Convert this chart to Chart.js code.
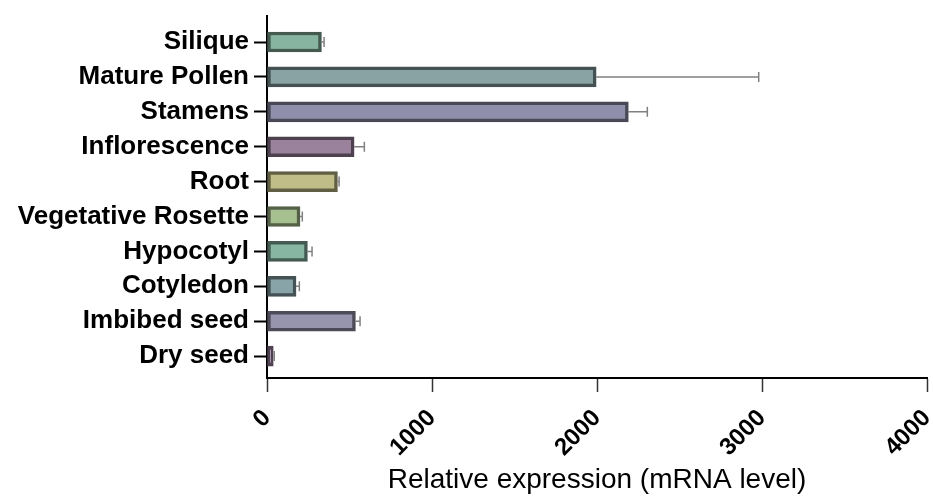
<!DOCTYPE html>
<html>
<head>
<meta charset="utf-8">
<script src="https://cdn.jsdelivr.net/npm/chart.js@4.4.1/dist/chart.umd.min.js"></script>
<style>
  html, body { margin: 0; padding: 0; background: #fff; }
  #wrap { width: 933px; height: 497px; }
</style>
</head>
<body>
<div id="wrap"><canvas id="exprChart" width="933" height="497"></canvas></div>
<script>
// tissues, top to bottom
const tissues = ['Silique', 'Mature Pollen', 'Stamens', 'Inflorescence', 'Root',
    'Vegetative Rosette', 'Hypocotyl', 'Cotyledon', 'Imbibed seed', 'Dry seed'];
const expression = [330, 1995, 2190, 528, 427, 200, 245, 176, 536, 38];
const errors = [16, 985, 115, 62, 10, 14, 28, 20, 28, 6];
const xTicks = [0, 1000, 2000, 3000, 4000];

const fillColors = ['#87b3a1', '#89a3a5', '#8f8fab', '#9a829d', '#c0bd88',
    '#a7c08f', '#87b6a3', '#89a4a9', '#9795ae', '#9b81a1'];

// darker outline from the fill colour
const darken = (hex, f) => {
    const n = parseInt(hex.slice(1), 16);
    const r = Math.round(((n >> 16) & 255) * f);
    const g = Math.round(((n >> 8) & 255) * f);
    const b = Math.round((n & 255) * f);
    return `rgb(${r}, ${g}, ${b})`;
};

const errorBars = {
    id: 'errorBars',
    afterDatasetsDraw(chart) {
        const ctx = chart.ctx;
        const xScale = chart.scales.x;
        const meta = chart.getDatasetMeta(0);
        ctx.save();
        ctx.strokeStyle = '#808080';
        ctx.lineWidth = 1.5;
        meta.data.forEach((bar, i) => {
            const x0 = xScale.getPixelForValue(expression[i]);
            const x1 = xScale.getPixelForValue(expression[i] + errors[i]);
            ctx.beginPath();
            ctx.moveTo(x0, bar.y);
            ctx.lineTo(x1, bar.y);
            ctx.moveTo(x1, bar.y - 5);
            ctx.lineTo(x1, bar.y + 5);
            ctx.stroke();
        });
        ctx.restore();
    }
};

const ctx = document.getElementById('exprChart').getContext('2d');
new Chart(ctx, {
    type: 'bar',
    data: {
        datasets: [{
            data: tissues.map((t, i) => ({ x: expression[i], y: i })),
            backgroundColor: fillColors,
            borderColor: fillColors.map(c => darken(c, 0.5)),
            borderWidth: 3.5,
            borderSkipped: false,
            barThickness: 20
        }]
    },
    options: {
        indexAxis: 'y',
        responsive: false,
        animation: false,
        layout: { padding: { top: 16, right: 6, left: 0, bottom: 0 } },
        plugins: {
            legend: { display: false },
            tooltip: { enabled: false }
        },
        scales: {
            y: {
                type: 'linear',
                reverse: true,
                offset: false,
                min: -0.745,
                max: 9.627,
                afterBuildTicks: (scale) => {
                    scale.ticks = tissues.map((t, i) => ({ value: i }));
                },
                afterFit: (scale) => {
                    scale.width = 267;
                    scale.paddingTop = 0;
                    scale.paddingBottom = 0;
                },
                border: { color: '#000', width: 2 },
                grid: {
                    offset: false,
                    drawOnChartArea: false,
                    tickLength: 13,
                    tickWidth: 2,
                    tickColor: '#000'
                },
                ticks: {
                    padding: 5,
                    color: '#000',
                    font: { family: 'Liberation Sans', size: 26, weight: 'bold' },
                    callback: (v) => tissues[v]
                }
            },
            x: {
                type: 'linear',
                min: 0,
                max: 4000,
                afterBuildTicks: (scale) => {
                    scale.ticks = xTicks.map(v => ({ value: v }));
                },
                afterFit: (scale) => {
                    scale.height = 119;
                    scale.paddingLeft = 0;
                    scale.paddingRight = 0;
                },
                border: { color: '#000', width: 2 },
                grid: {
                    drawOnChartArea: false,
                    tickLength: 14,
                    tickWidth: 1.5,
                    tickColor: '#333'
                },
                ticks: {
                    minRotation: 45,
                    maxRotation: 45,
                    padding: 12,
                    color: '#000',
                    font: { family: 'Liberation Sans', size: 24, weight: 'bold' },
                    callback: (v) => String(v)
                },
                title: {
                    display: true,
                    text: 'Relative expression (mRNA level)',
                    color: '#000',
                    padding: { top: 0, bottom: 0 },
                    font: { family: 'Liberation Sans', size: 28 }
                }
            }
        }
    },
    plugins: [errorBars]
});
</script>
</body>
</html>
